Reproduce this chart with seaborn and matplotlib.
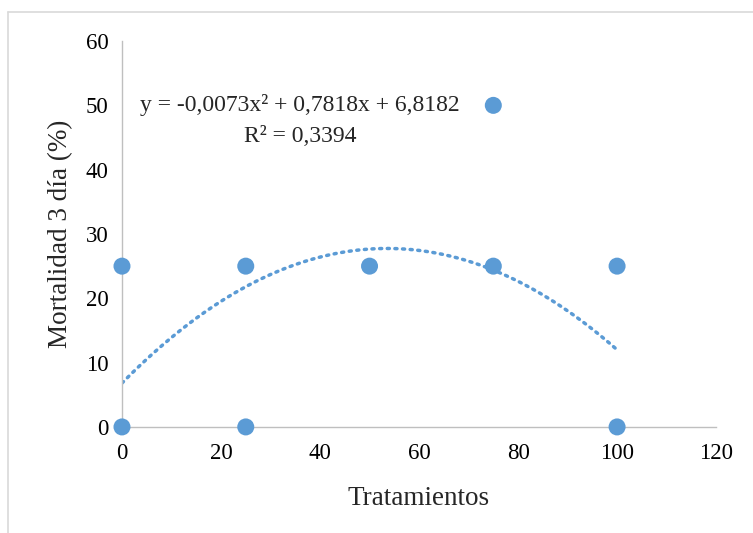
import numpy as np
import pandas as pd
import matplotlib
matplotlib.use("Agg")
import matplotlib.pyplot as plt
import seaborn as sns

# observed points (treatment, mortality %)
tratamientos = [0, 0, 25, 25, 50, 75, 75, 100, 100]
mortalidad = [25, 0, 25, 0, 25, 50, 25, 25, 0]

# polynomial trendline coefficients shown on the chart (a*x^2 + b*x + c)
trend_coef = [-0.0073, 0.7818, 6.8182]
trend_range = [0, 100]
eq_label = "y = -0,0073x² + 0,7818x + 6,8182"
r2_label = "R² = 0,3394"

x_ticks = [0, 20, 40, 60, 80, 100, 120]
y_ticks = [0, 10, 20, 30, 40, 50, 60]

BLUE = "#5B9BD5"
GRAY = "#BFBFBF"

sns.set_style("white")
plt.rcParams["font.family"] = ["Liberation Serif", "DejaVu Serif"]

df = pd.DataFrame({"Tratamientos": tratamientos, "Mortalidad": mortalidad})
xs = np.linspace(trend_range[0], trend_range[1], 200)
trend = pd.DataFrame({"x": xs, "y": np.polyval(trend_coef, xs)})

fig = plt.figure(figsize=(7.53, 5.33), dpi=100)
ax = fig.add_axes([0.162, 0.199, 0.789, 0.724])

sns.lineplot(data=trend, x="x", y="y", ax=ax, color=BLUE, lw=2.5,
             linestyle=(0, (0.6, 1.6)), dash_capstyle="round")
sns.scatterplot(data=df, x="Tratamientos", y="Mortalidad", ax=ax,
                color=BLUE, s=150, edgecolor="none", zorder=3, clip_on=False)

ax.set_xlim(0, 120)
ax.set_ylim(0, 60)
ax.set_xticks(x_ticks)
ax.set_yticks(y_ticks)
ax.tick_params(axis="both", labelsize=16.5, colors=GRAY, labelcolor="black",
               length=3.6, width=1)
ax.tick_params(axis="y", pad=6)
ax.tick_params(axis="x", pad=8)
for side in ["top", "right"]:
    ax.spines[side].set_visible(False)
for side in ["left", "bottom"]:
    ax.spines[side].set_color(GRAY)
    ax.spines[side].set_linewidth(1)

ax.set_xlabel("Tratamientos", fontsize=19.5, labelpad=16)
ax.set_ylabel("Mortalidad 3 día (%)", fontsize=19.5, labelpad=9)

ax.text(36, 50, eq_label, fontsize=17, ha="center", va="center")
ax.text(36, 45.1, r2_label, fontsize=17, ha="center", va="center")

# outer chart border (left and top visible in the source)
fig.add_artist(plt.Line2D([0.0106, 0.0106], [0.0, 0.977], color="#D9D9D9", lw=1.2))
fig.add_artist(plt.Line2D([0.0106, 1.0], [0.977, 0.977], color="#D9D9D9", lw=1.2))

fig.savefig("out.png", dpi=100)
